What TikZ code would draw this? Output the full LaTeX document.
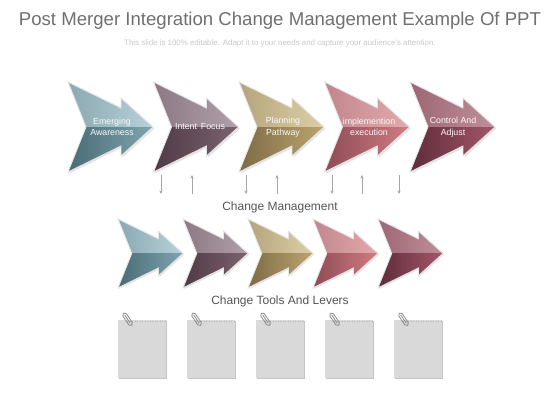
\documentclass[tikz,border=0pt]{standalone}
\usepackage{fontspec}
\setmainfont{Liberation Sans}
\usetikzlibrary{arrows.meta}
\definecolor{titlegray}{HTML}{707070}
\definecolor{subgray}{HTML}{C8C8C8}
\definecolor{capgray}{HTML}{555555}
\definecolor{notefill}{HTML}{D9D9D9}
\definecolor{noteshadow}{HTML}{C4C4C4}
\definecolor{clipgray}{HTML}{8A8A8A}
\definecolor{tA1}{HTML}{8AA9B2}\definecolor{tA2}{HTML}{B7D1D8}\definecolor{tA3}{HTML}{4A6B75}\definecolor{tA4}{HTML}{7FA5AF}
\definecolor{tB1}{HTML}{8D7883}\definecolor{tB2}{HTML}{B0A0A9}\definecolor{tB3}{HTML}{4E3A45}\definecolor{tB4}{HTML}{7C6370}
\definecolor{tC1}{HTML}{B5A47B}\definecolor{tC2}{HTML}{DCCFA7}\definecolor{tC3}{HTML}{7D6B45}\definecolor{tC4}{HTML}{BBA46F}
\definecolor{tD1}{HTML}{C1868C}\definecolor{tD2}{HTML}{E3AAAD}\definecolor{tD3}{HTML}{8E4C55}\definecolor{tD4}{HTML}{D07C82}
\definecolor{tE1}{HTML}{9D6674}\definecolor{tE2}{HTML}{C08F9A}\definecolor{tE3}{HTML}{5E2C3A}\definecolor{tE4}{HTML}{A5566A}
\newcommand\chevshape{(0,0) -- (53,26) -- (53,16) -- (85,45) -- (53,74) -- (53,64) -- (0,90) -- (18,45) -- cycle}
% #1 x, #2 y, #3 scale, #4 colour prefix
\newcommand\chev[4]{%
  \begin{scope}[shift={(#1,#2)}, scale=#3]
    \fill[black, opacity=0.10, shift={(1.5,1.5)}] \chevshape;
    \begin{scope}
      \clip \chevshape;
      \shade[left color=#41, right color=#42] (0,0) rectangle (85,45);
      \shade[left color=#43, right color=#44] (0,45) rectangle (85,90);
    \end{scope}
    \draw[chevborder] \chevshape;
  \end{scope}}
\begin{document}
\begin{tikzpicture}[x=1pt,y=-1pt,
  chevborder/.style={draw=white!80!gray, line width=0.9pt, line join=miter},
  lbl/.style={text=white!95!gray, align=center, inner sep=0pt,
    font=\fontsize{8.8}{11.5}\selectfont},
  caption/.style={text=capgray, font=\fontsize{12}{14}\selectfont},
  smallarr/.style={draw=gray!70, line width=0.6pt, -{Stealth[length=3.5pt,width=3pt]}},
  note/.style={fill=notefill, minimum width=48pt, minimum height=58pt, inner sep=0pt, draw=none},
  noteshade/.style={fill=noteshadow, minimum width=48pt, minimum height=58pt, inner sep=0pt, draw=none},
  perf/.style={draw=gray!60, dotted, line width=0.5pt},
  clipline/.style={draw=clipgray, line width=0.8pt}
]
\useasboundingbox[fill=white] (0,0) rectangle (560,420);

% titles
\node[text=titlegray, font=\fontsize{18.6}{20}\selectfont] (title) at (280,21)
  {Post Merger Integration Change Management Example Of PPT};
\node[text=subgray, font=\fontsize{7.9}{9}\selectfont] (subtitle) at (280,43)
  {This slide is 100\% editable. Adapt it to your needs and capture your audience's attention.};

% top row of arrows
\chev{68}{82}{1}{tA}
\chev{153.5}{82}{1}{tB}
\chev{239}{82}{1}{tC}
\chev{324.5}{82}{1}{tD}
\chev{410}{82}{1}{tE}
\node[lbl] (t1) at (112,127) {Emerging\\Awareness};
\node[lbl] (t2) at (200,127) {Intent\,\ Focus};
\node[lbl] (t3) at (283,127) {Planning\\Pathway};
\node[lbl] (t4) at (369,127) {implemention\\execution};
\node[lbl] (t5) at (453,127) {Control And\\Adjust};

% small arrows
\foreach \i/\x in {1/161, 2/192, 3/246, 4/277, 5/332, 6/362, 7/399} {
  \coordinate (s\i a) at (\x,175);
  \coordinate (s\i b) at (\x,194);
}
\draw[smallarr] (s1a) -- (s1b);
\draw[smallarr] (s2b) -- (s2a);
\draw[smallarr] (s3a) -- (s3b);
\draw[smallarr] (s4b) -- (s4a);
\draw[smallarr] (s5a) -- (s5b);
\draw[smallarr] (s6b) -- (s6a);
\draw[smallarr] (s7a) -- (s7b);

\node[caption] (cm) at (280,207) {Change Management};

% bottom row of arrows
\chev{118}{219}{0.765}{tA}
\chev{183}{219}{0.765}{tB}
\chev{248}{219}{0.765}{tC}
\chev{313}{219}{0.765}{tD}
\chev{378}{219}{0.765}{tE}

\node[caption] (ctl) at (280,301) {Change Tools And Levers};

% notes
\foreach \i/\x in {1/118, 2/187, 3/256, 4/325, 5/394} {
  \node[noteshade, anchor=north west] (ns\i) at (\x+1,321) {};
  \node[note, anchor=north west] (n\i) at (\x,320) {};
  \draw[perf] ([xshift=9pt,yshift=-0.8pt]n\i.north west) -- ([yshift=-0.8pt]n\i.north east);
  \begin{scope}[rotate around={-56:(\x+9.5,319)}]
    \draw[clipline, rounded corners=1.9pt] (\x+2.5,317) rectangle (\x+17,321.2);
    \draw[clipline] (\x+4.5,319.1) -- (\x+14.5,319.1);
  \end{scope}
}
\end{tikzpicture}
\end{document}
